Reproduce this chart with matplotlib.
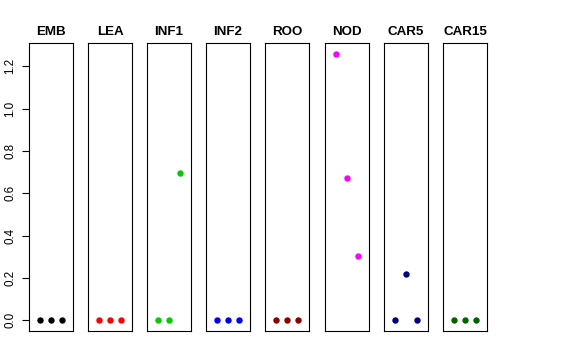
import matplotlib
matplotlib.use("Agg")
import matplotlib.pyplot as plt

tissues = ["EMB", "LEA", "INF1", "INF2", "ROO", "NOD", "CAR5", "CAR15"]
colors = ["black", "red", "#00CD00", "blue", "#8B0000", "magenta", "#000080", "#006400"]
values = {
    "EMB": [0.0, 0.0, 0.0],
    "LEA": [0.0, 0.0, 0.0],
    "INF1": [0.0, 0.0, 0.694],
    "INF2": [0.0, 0.0, 0.0],
    "ROO": [0.0, 0.0, 0.0],
    "NOD": [1.26, 0.671, 0.302],
    "CAR5": [0.0, 0.217, 0.0],
    "CAR15": [0.0, 0.0, 0.0],
}
yticks = [0.0, 0.2, 0.4, 0.6, 0.8, 1.0, 1.2]
reps = [1, 2, 3]

plt.rcParams['font.family'] = ['Liberation Sans', 'DejaVu Sans']
W, H = 576, 360
fig = plt.figure(figsize=(W / 100, H / 100), dpi=100)

lefts = [29, 88, 147, 206, 265, 324.5, 384, 443]
pw = 44
top, bottom = 43, 331
ymax = max(max(v) for v in values.values())
ymin = 0.0
pad = (ymax - ymin) * 0.04

for i, (t, c, x0) in enumerate(zip(tissues, colors, lefts)):
    ax = fig.add_axes([x0 / W, 1 - bottom / H, pw / W, (bottom - top) / H])
    ax.plot(reps, values[t], 'o', color=c, markersize=4.6, markeredgewidth=0)
    ax.set_xlim(0, 4)
    ax.set_ylim(ymin - pad, ymax + pad)
    ax.set_xticks([])
    for s in ax.spines.values():
        s.set_linewidth(0.8)
        s.set_color('black')
    ax.set_title(t, fontsize=9.6, fontweight='bold', pad=5.5)
    if i == 0:
        ax.set_yticks(yticks)
        ax.set_yticklabels([f"{v:.1f}" for v in yticks], rotation=90, va='center', fontsize=8.4)
        ax.tick_params(axis='y', length=5, width=0.8, pad=4)
    else:
        ax.set_yticks([])

fig.savefig("out.png", dpi=100)
